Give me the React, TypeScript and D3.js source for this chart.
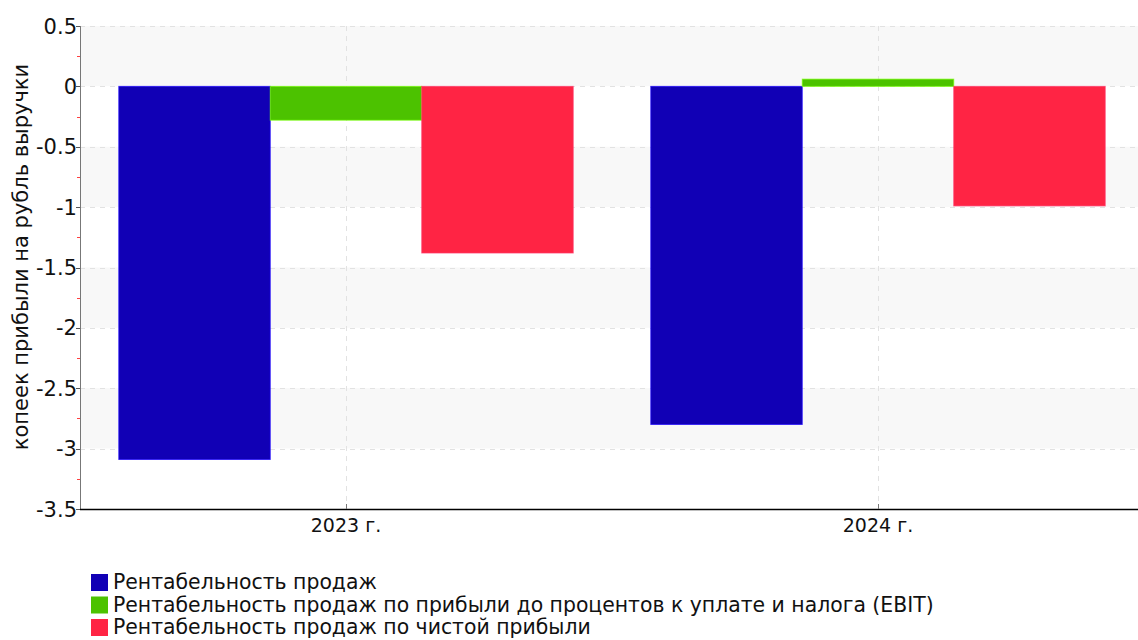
import React, { useEffect, useRef } from 'react';
import * as d3 from 'd3';

// chart data
const categories = ['2023 г.', '2024 г.'];
const seriesNames = [
  'Рентабельность продаж',
  'Рентабельность продаж по прибыли до процентов к уплате и налога (EBIT)',
  'Рентабельность продаж по чистой прибыли',
];
const seriesColors = ['#1100b5', '#4cc200', '#ff2444'];
const salesMargin = [-3.09, -2.8];
const ebitMargin = [-0.28, 0.06];
const netMargin = [-1.38, -0.99];
const yTicks = [0.5, 0, -0.5, -1, -1.5, -2, -2.5, -3, -3.5];
const yMinorTicks = [0.25, -0.25, -0.75, -1.25, -1.75, -2.25, -2.75, -3.25];

const width = 1138;
const height = 640;

const App: React.FC = () => {
  const ref = useRef<SVGSVGElement | null>(null);

  useEffect(() => {
    if (!ref.current) return;
    const svg = d3.select(ref.current);
    svg.selectAll('*').remove();

    const left = 80;
    const right = 1144;
    const top = 26;
    const bottom = 509;

    const y = d3.scaleLinear().domain([-3.5, 0.5]).range([bottom, top]);
    const x0 = d3.scaleBand<string>().domain(categories).range([left, right]).paddingInner(0).paddingOuter(0);
    const x1 = d3.scaleBand<string>().domain(seriesNames).range([0, x0.bandwidth()]).paddingOuter(0.256);

    const series = [salesMargin, ebitMargin, netMargin];

    // Alternating background bands
    const bands = yTicks.slice(0, -1);
    svg.append('g')
      .selectAll('rect')
      .data(bands)
      .join('rect')
      .attr('x', left)
      .attr('width', right - left)
      .attr('y', (d) => y(d))
      .attr('height', (d) => y(d - 0.5) - y(d))
      .attr('fill', (_d, i) => (i % 2 === 0 ? '#f8f8f8' : '#ffffff'));

    // Grid lines
    const grid = svg.append('g').attr('stroke', '#e2e2e2').attr('stroke-dasharray', '5,5').attr('stroke-width', 1);
    grid.selectAll('line.h')
      .data(yTicks.slice(0, -1))
      .join('line')
      .attr('class', 'h')
      .attr('x1', left)
      .attr('x2', right)
      .attr('y1', (d) => Math.round(y(d)) + 0.5)
      .attr('y2', (d) => Math.round(y(d)) + 0.5);
    grid.selectAll('line.v')
      .data(categories)
      .join('line')
      .attr('class', 'v')
      .attr('x1', (d) => Math.round(x0(d)! + x0.bandwidth() / 2) + 0.5)
      .attr('x2', (d) => Math.round(x0(d)! + x0.bandwidth() / 2) + 0.5)
      .attr('y1', top)
      .attr('y2', bottom);

    // Bars
    series.forEach((values, si) => {
      const color = seriesColors[si];
      const stroke = d3.color(color)!.brighter(1.2).formatHex();
      svg.append('g')
        .selectAll('rect')
        .data(values)
        .join('rect')
        .attr('x', (_d, i) => x0(categories[i])! + x1(seriesNames[si])!)
        .attr('width', x1.bandwidth())
        .attr('y', (d) => y(Math.max(0, d)))
        .attr('height', (d) => Math.abs(y(d) - y(0)))
        .attr('fill', color)
        .attr('stroke', stroke)
        .attr('stroke-opacity', 0.7)
        .attr('stroke-width', 1);
    });

    // Y axis
    const yAxis = svg.append('g');
    yAxis.append('line')
      .attr('x1', left + 0.5).attr('x2', left + 0.5)
      .attr('y1', top).attr('y2', bottom)
      .attr('stroke', '#777777');
    yAxis.selectAll('line.major')
      .data(yTicks)
      .join('line')
      .attr('class', 'major')
      .attr('x1', left - 4).attr('x2', left)
      .attr('y1', (d) => Math.round(y(d)) + 0.5)
      .attr('y2', (d) => Math.round(y(d)) + 0.5)
      .attr('stroke', '#555555');
    yAxis.selectAll('line.minor')
      .data(yMinorTicks)
      .join('line')
      .attr('class', 'minor')
      .attr('x1', left - 3).attr('x2', left)
      .attr('y1', (d) => Math.round(y(d)) + 0.5)
      .attr('y2', (d) => Math.round(y(d)) + 0.5)
      .attr('stroke', '#ff4040');
    yAxis.selectAll('text')
      .data(yTicks)
      .join('text')
      .attr('x', left - 3)
      .attr('y', (d) => y(d))
      .attr('dy', '0.36em')
      .attr('text-anchor', 'end')
      .attr('font-family', 'DejaVu Sans')
      .attr('font-size', 21)
      .attr('fill', '#111111')
      .text((d) => String(d));

    // X axis
    const xAxis = svg.append('g');
    xAxis.append('line')
      .attr('x1', left).attr('x2', right)
      .attr('y1', bottom + 0.5).attr('y2', bottom + 0.5)
      .attr('stroke', '#000000')
      .attr('stroke-width', 1.5);
    xAxis.selectAll('line.tick')
      .data(categories)
      .join('line')
      .attr('class', 'tick')
      .attr('x1', (d) => Math.round(x0(d)! + x0.bandwidth() / 2) + 0.5)
      .attr('x2', (d) => Math.round(x0(d)! + x0.bandwidth() / 2) + 0.5)
      .attr('y1', bottom - 5).attr('y2', bottom)
      .attr('stroke', '#777777');
    xAxis.selectAll('text')
      .data(categories)
      .join('text')
      .attr('x', (d) => x0(d)! + x0.bandwidth() / 2)
      .attr('y', bottom + 23)
      .attr('text-anchor', 'middle')
      .attr('font-family', 'DejaVu Sans')
      .attr('font-size', 19)
      .attr('fill', '#111111')
      .text((d) => d);

    // Y axis title
    svg.append('text')
      .attr('transform', `translate(28,257) rotate(-90)`)
      .attr('text-anchor', 'middle')
      .attr('font-family', 'DejaVu Sans')
      .attr('font-size', 21)
      .attr('fill', '#111111')
      .text('копеек прибыли на рубль выручки');

    // Legend
    const legend = svg.append('g').attr('transform', 'translate(91,574)');
    const rows = legend.selectAll('g')
      .data(seriesNames)
      .join('g')
      .attr('transform', (_d, i) => `translate(0,${i * 22.5})`);
    rows.append('rect')
      .attr('width', 17)
      .attr('height', 17)
      .attr('fill', (_d, i) => seriesColors[i]);
    rows.append('text')
      .attr('x', 22)
      .attr('y', 15)
      .attr('font-family', 'DejaVu Sans')
      .attr('font-size', 20.4)
      .attr('fill', '#111111')
      .text((d) => d);
  }, []);

  return (
    <svg
      ref={ref}
      width={width}
      height={height}
      style={{ position: 'absolute', left: 0, top: 0, display: 'block', background: '#ffffff' }}
    />
  );
};

export default App;
